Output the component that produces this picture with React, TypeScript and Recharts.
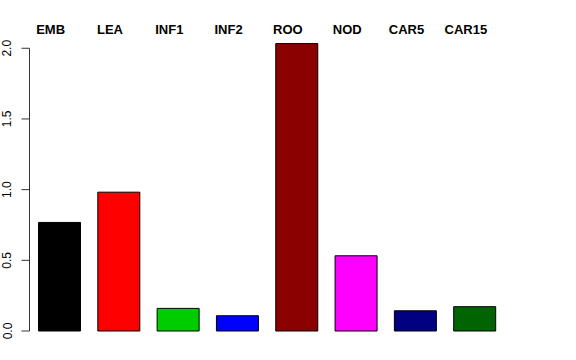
import React from 'react';
import { BarChart, Bar, XAxis, YAxis, Cell, ReferenceLine } from 'recharts';

const categories = ['EMB', 'LEA', 'INF1', 'INF2', 'ROO', 'NOD', 'CAR5', 'CAR15'];
const values = [0.768, 0.982, 0.16, 0.108, 2.033, 0.532, 0.143, 0.172];
const colors = ['#000000', '#FF0000', '#00CD00', '#0000FF', '#8B0000', '#FF00FF', '#000080', '#006400'];
const yTicks = [0, 0.5, 1, 1.5, 2];
const yTickLabels = ['0.0', '0.5', '1.0', '1.5', '2.0'];

const data = categories.map((name, i) => ({ name, value: values[i] }));

const FONT = '"Liberation Sans", Arial, Helvetica, sans-serif';

const TopTick = (props: any) => {
  const { x, y, payload } = props;
  return (
    <text x={x} y={y + 14} dx={-8.5} textAnchor="middle" fontFamily={FONT} fontWeight="bold" fontSize={13} fill="#000">
      {payload.value}
    </text>
  );
};

const LeftTick = (props: any) => {
  const { x, y, payload } = props;
  const idx = yTicks.indexOf(payload.value);
  const label = idx >= 0 ? yTickLabels[idx] : String(payload.value);
  return (
    <text x={x} y={y} transform={`rotate(-90, ${x}, ${y})`} textAnchor="middle" fontFamily={FONT} fontSize={12} fill="#000">
      {label}
    </text>
  );
};

export default function App() {
  return (
    <div style={{ position: 'absolute', left: 0, top: 0, width: 576, height: 360, background: '#fff' }}>
      <BarChart width={576} height={360} data={data} margin={{ top: 0, right: 72, left: 0, bottom: 29 }}>
        <XAxis
          dataKey="name"
          orientation="top"
          height={20}
          axisLine={false}
          tickLine={false}
          tickSize={0}
          tickMargin={0}
          interval={0}
          tick={<TopTick />}
        />
        <YAxis
          type="number"
          domain={[0, 2.2]}
          ticks={yTicks}
          width={29.5}
          axisLine={false}
          tickLine={{ stroke: '#333', strokeWidth: 1 }}
          tickSize={8}
          tickMargin={10}
          tick={<LeftTick />}
          interval={0}
        />
        <ReferenceLine
          segment={[{ x: 'EMB', y: 0 }, { x: 'EMB', y: 2 }]}
          position="start"
          stroke="#333"
          strokeWidth={1}
          ifOverflow="visible"
        />
        <Bar dataKey="value" barSize={42} stroke="#000" strokeWidth={1} isAnimationActive={false}>
          {data.map((d, i) => (
            <Cell key={d.name} fill={colors[i]} />
          ))}
        </Bar>
      </BarChart>
    </div>
  );
}
